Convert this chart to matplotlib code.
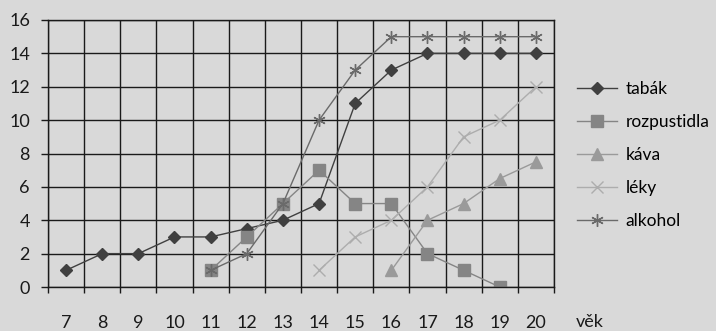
import numpy as np
import matplotlib.pyplot as plt

# vek (roky)
vek = [7, 8, 9, 10, 11, 12, 13, 14, 15, 16, 17, 18, 19, 20]

tabak_x = [7, 8, 9, 10, 11, 12, 13, 14, 15, 16, 17, 18, 19, 20]
tabak_y = [1, 2, 2, 3, 3, 3.5, 4, 5, 11, 13, 14, 14, 14, 14]

rozpustidla_x = [11, 12, 13, 14, 15, 16, 17, 18, 19]
rozpustidla_y = [1, 3, 5, 7, 5, 5, 2, 1, 0]

kava_x = [16, 17, 18, 19, 20]
kava_y = [1, 4, 5, 6.5, 7.5]

leky_x = [14, 15, 16, 17, 18, 19, 20]
leky_y = [1, 3, 4, 6, 9, 10, 12]

alkohol_x = [11, 12, 13, 14, 15, 16, 17, 18, 19, 20]
alkohol_y = [1, 2, 5, 10, 13, 15, 15, 15, 15, 15]

plt.rcParams['font.family'] = ['Lato', 'DejaVu Sans']

bg = '#d9d9d9'
fig = plt.figure(figsize=(7.16, 3.31), dpi=100, facecolor=bg)
ax = fig.add_axes([48/716, 1-287/331, 506/716, 267/331], facecolor=bg)

ax.plot(tabak_x, tabak_y, color='#404040', lw=1.0, marker='D', ms=6.5, label='tabák')
ax.plot(rozpustidla_x, rozpustidla_y, color='#858585', lw=1.0, marker='s', ms=8, label='rozpustidla')
ax.plot(kava_x, kava_y, color='#9a9a9a', lw=1.0, marker='^', ms=8.5, label='káva')
ax.plot(leky_x, leky_y, color='#adadad', lw=1.0, marker='x', ms=8, mew=1.0, label='léky')
ax.plot(alkohol_x, alkohol_y, color='#6a6a6a', lw=1.0, marker=(6, 2, 0), ms=9, mew=1.0, label='alkohol')

ax.set_xlim(vek[0] - 0.5, vek[-1] + 0.5)
ax.set_ylim(0, 16)

# popisky uprostred kategorii, carky na hranicich
ax.set_xticks(vek)
ax.set_xticklabels([str(v) for v in vek])
ax.set_xticks(np.arange(vek[0] - 0.5, vek[-1] + 1), minor=True)
ax.tick_params(axis='x', which='major', length=0, pad=20, labelsize=13)
ax.tick_params(axis='x', which='minor', length=4.5, width=1.0, color='#1a1a1a', direction='out')

ax.set_yticks(range(0, 17, 2))
ax.tick_params(axis='y', length=5, width=1.0, color='#1a1a1a', pad=8, labelsize=13)

ax.grid(axis='x', which='minor', color='#1a1a1a', lw=1.0)
ax.grid(axis='y', which='major', color='#1a1a1a', lw=1.0)
ax.set_axisbelow(True)
for s in ax.spines.values():
    s.set_color('#1a1a1a')
    s.set_linewidth(1.0)

fig.text(576/716, 1-322/331, 'věk', fontsize=13, va='center', ha='left', color='#1a1a1a')

ax.legend(loc='center left', bbox_to_anchor=(570/716, 1-155/331), bbox_transform=fig.transFigure,
          frameon=False, fontsize=12.5, handlelength=2.3, labelspacing=0.98, handletextpad=0.5,
          borderaxespad=0)

for t in ax.get_xticklabels() + ax.get_yticklabels():
    t.set_color('#1a1a1a')

plt.savefig('out.png', dpi=100, facecolor=bg)
